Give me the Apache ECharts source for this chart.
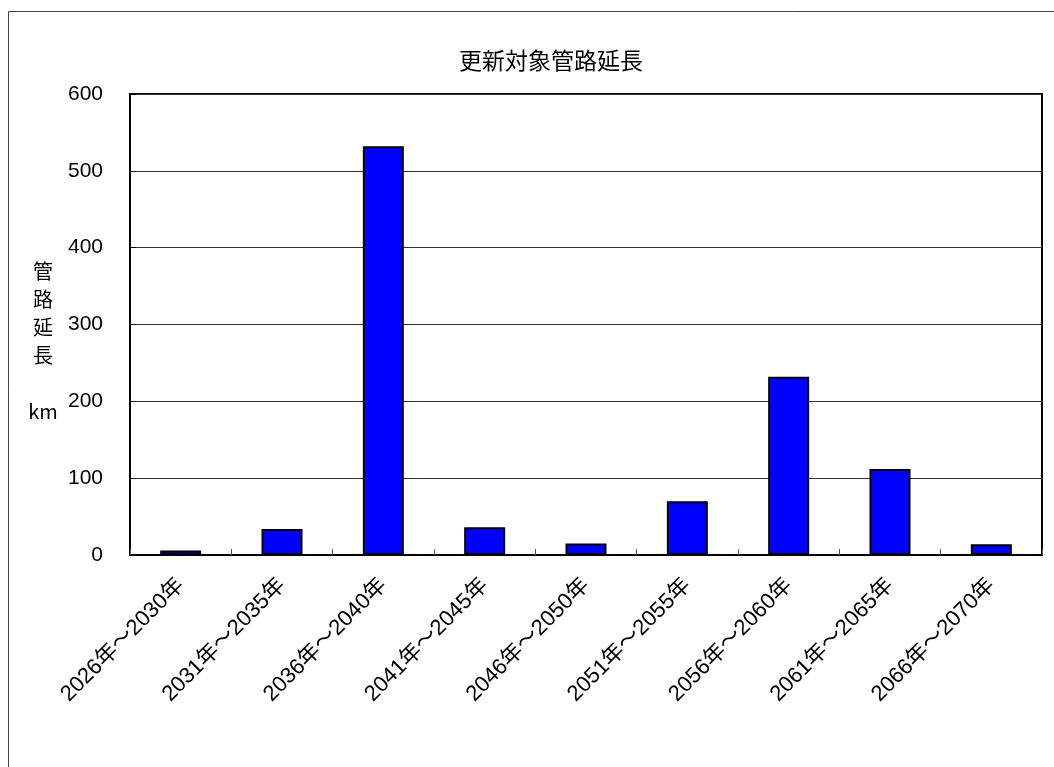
<!DOCTYPE html>
<html>
<head>
<meta charset="utf-8">
<script src="https://cdn.jsdelivr.net/npm/echarts@6/dist/echarts.min.js"></script>
<style>
  html, body { margin: 0; padding: 0; background: #fff; }
  #main { width: 1054px; height: 767px; }
</style>
</head>
<body>
<div id="main"></div>
<script>
const categories = ['2026年～2030年', '2031年～2035年', '2036年～2040年', '2041年～2045年',
  '2046年～2050年', '2051年～2055年', '2056年～2060年', '2061年～2065年', '2066年～2070年'];
const pipeLength = [6, 34, 532, 36, 15, 70, 232, 112, 14];
const yTicks = [0, 100, 200, 300, 400, 500, 600];
const yName = '管\n路\n延\n長\n\nkm';

const font = '"Liberation Sans", "Noto Sans CJK JP", sans-serif';
const cjk = '"Noto Sans CJK JP", sans-serif';
const chart = echarts.init(document.getElementById('main'));

// specify chart configuration
const option = {
  animation: false,
  backgroundColor: '#fff',
  title: {
    text: '更新対象管路延長',
    left: 546,
    top: 44,
    textAlign: 'center',
    textStyle: { fontFamily: cjk, fontSize: 23, fontWeight: 'normal', color: '#000' }
  },
  graphic: [{
    type: 'rect',
    shape: { x: 8.5, y: 11.5, width: 1100, height: 800 },
    style: { fill: 'none', stroke: '#444', lineWidth: 1 },
    silent: true
  }, {
    // y axis title, stacked vertically
    type: 'text',
    x: 43,
    y: 257,
    style: {
      text: yName, fontFamily: cjk, fontSize: 20, lineHeight: 28, fill: '#000',
      align: 'center', verticalAlign: 'top'
    },
    silent: true
  }],
  grid: { left: 130, top: 94, right: 12, bottom: 212, show: true, borderColor: '#000', borderWidth: 2 },
  xAxis: {
    type: 'category',
    data: categories,
    axisLine: { lineStyle: { color: '#000', width: 2 } },
    axisTick: { show: true, inside: true, length: 6, alignWithLabel: false, lineStyle: { color: '#555' } },
    axisLabel: { rotate: 45, margin: 27, fontFamily: font, fontSize: 22, color: '#000', interval: 0 }
  },
  yAxis: {
    type: 'value',
    min: yTicks[0],
    max: yTicks[yTicks.length - 1],
    interval: 100,
    axisLine: { show: true, lineStyle: { color: '#000', width: 2 } },
    axisTick: { show: true, inside: true, length: 6, lineStyle: { color: '#000' } },
    axisLabel: { margin: 27, fontFamily: font, fontSize: 21, color: '#000' },
    splitLine: { lineStyle: { color: '#333', width: 1 } }
  },
  series: [{
    type: 'bar',
    data: pipeLength,
    barWidth: 41,
    itemStyle: { color: '#0000ff', borderColor: '#000', borderWidth: 2 }
  }]
};
chart.setOption(option);
</script>
</body>
</html>
